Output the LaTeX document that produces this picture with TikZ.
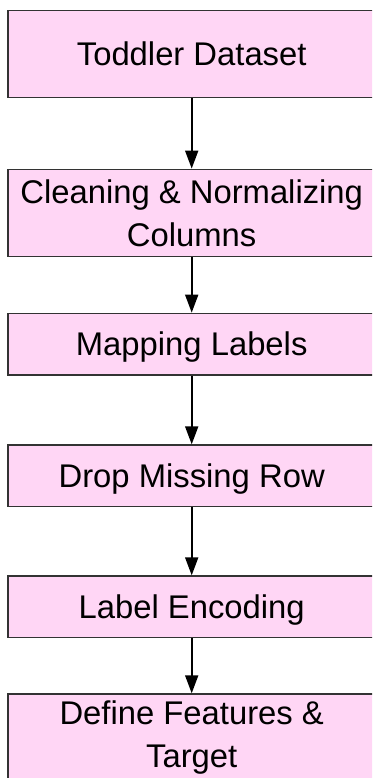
\documentclass[tikz,border=0pt]{standalone}
\usepackage{fontspec}
\setmainfont{Liberation Sans}
\usetikzlibrary{arrows.meta}
\definecolor{boxfill}{RGB}{255,214,245}
\definecolor{boxline}{RGB}{51,51,51}
\tikzset{
  flowbox/.style={draw=boxline, fill=boxfill, line width=1.4pt, minimum width=367.4pt,
    inner sep=0pt, align=center, font=\fontsize{32.8pt}{43pt}\selectfont},
  oneline/.style={text height=23.5pt, text depth=0pt},
  flowarrow/.style={draw=black, line width=1.8pt, -{Triangle[length=18pt,width=13pt]}}
}
\begin{document}
\begin{tikzpicture}[x=1pt,y=1pt]
\useasboundingbox (0,0) rectangle (372,-778);
\clip (0,0) rectangle (372,-778);
\node[flowbox, oneline, minimum height=87pt] (b1) at (191.7,-54.2) {Toddler Dataset};
\node[flowbox, minimum height=87.4pt] (b2) at (191.7,-213) {Cleaning \& Normalizing\\Columns};
\node[flowbox, oneline, minimum height=61.7pt] (b3) at (191.7,-344.2) {Mapping Labels};
\node[flowbox, oneline, minimum height=61.7pt] (b4) at (191.7,-475.9) {Drop Missing Row};
\node[flowbox, oneline, minimum height=61.7pt] (b5) at (191.7,-606.9) {Label Encoding};
\node[flowbox, minimum height=87.4pt] (b6) at (191.7,-737.7) {Define Features \&\\Target};
\draw[flowarrow] (b1) -- (b2);
\draw[flowarrow] (b2) -- (b3);
\draw[flowarrow] (b3) -- (b4);
\draw[flowarrow] (b4) -- (b5);
\draw[flowarrow] (b5) -- (b6);
\end{tikzpicture}
\end{document}
